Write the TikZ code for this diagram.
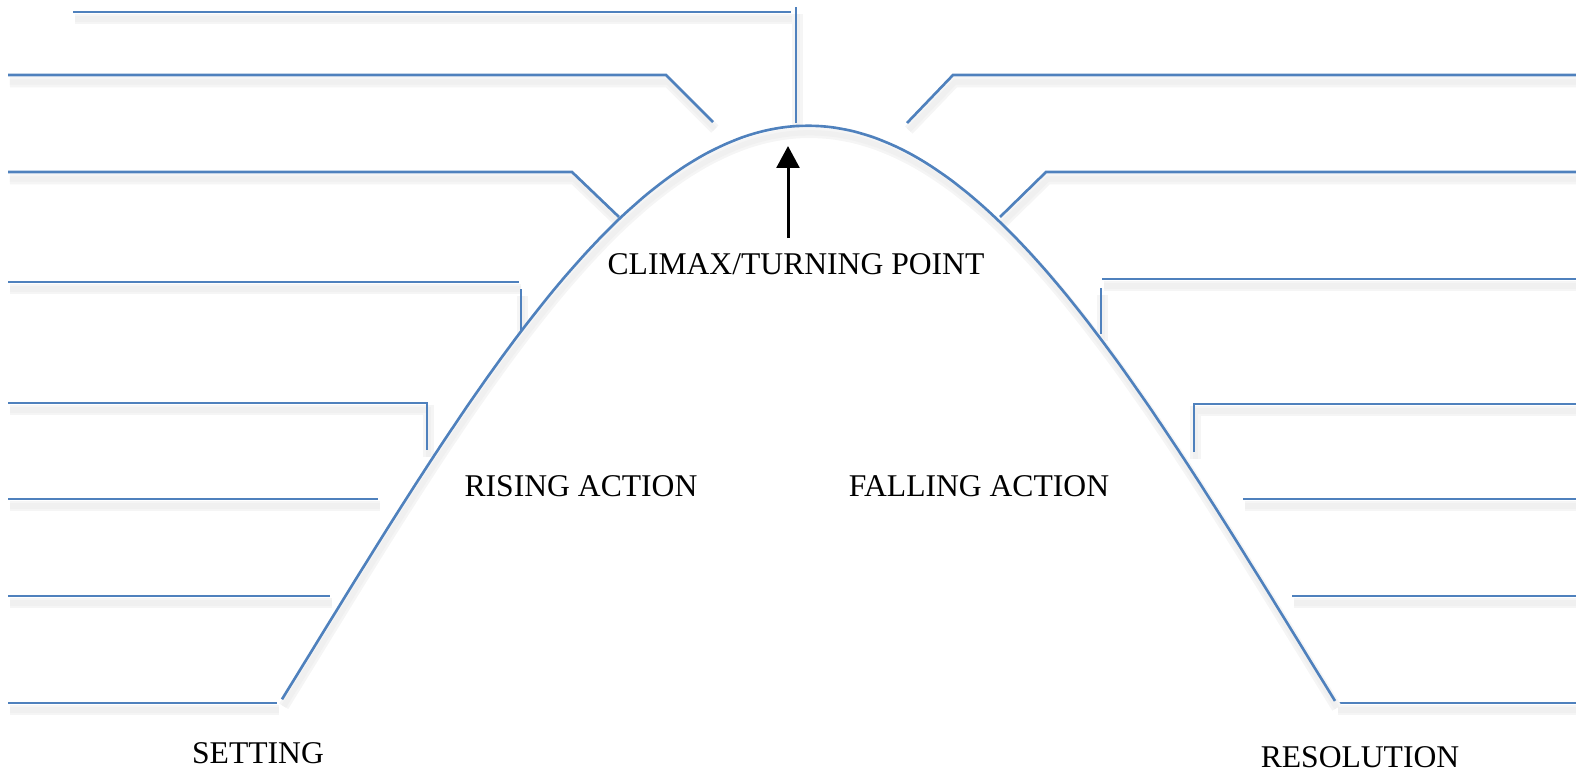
\documentclass[tikz,border=0pt]{standalone}
\usepackage{fontspec}
\setmainfont{Liberation Serif}
\usetikzlibrary{arrows.meta}
\definecolor{lineblue}{RGB}{79,129,189}
\tikzset{
  blank/.style={draw=lineblue, line width=1.5pt,
    preaction={draw=black!4, line width=6pt, transform canvas={shift={(1pt,-4pt)}}},
    preaction={draw=black!6, line width=3pt, transform canvas={shift={(1pt,-4pt)}}}},
  stage/.style={font=\fontsize{18pt}{22pt}\selectfont, inner sep=0pt, anchor=base},
  pointer/.style={-{Triangle[width=13pt,length=12.5pt]}, line width=1.7pt}
}

\begin{document}
\begin{tikzpicture}[x=0.02cm, y=-0.02cm]
\useasboundingbox (0,0) rectangle (1576,771);
% left blanks
\draw[blank] (73,12) -- (791,12);
\draw[blank] (796,7) -- (796,123);
\draw[blank] (8,75) -- (666,75) -- (713,122);
\draw[blank] (8,172) -- (572,172) -- (619,217);
\draw[blank] (8,282) -- (519,282);
\draw[blank] (521,289) -- (521,331);
\draw[blank] (8,403) -- (427,403) -- (427,450);
\foreach \y/\x in {499/378, 596/330, 703/277}
	\draw[blank] (8,\y) -- (\x,\y);
% right blanks
\draw[blank] (907,123) -- (953,75) -- (1576,75);
\draw[blank] (1000,217) -- (1046,172) -- (1576,172);
\draw[blank] (1102,279) -- (1576,279);
\draw[blank] (1101,288) -- (1101,334);
\draw[blank] (1194,452) -- (1194,404) -- (1576,404);
\foreach \y/\x in {499/1243, 596/1292, 703/1336}
	\draw[blank] (\x,\y) -- (1576,\y);
% the arc
\draw[blank] plot[domain=282:1335, samples=150, smooth] (\x, {126+1329*(1-exp(-((\x-808)/700)^2))});
% labels
\node[stage] (climax) at (796,274) {CLIMAX/TURNING POINT};
\node[stage] (rising) at (581,496) {RISING ACTION};
\node[stage] (falling) at (979,496) {FALLING ACTION};
\node[stage] (setting) at (258,763) {SETTING};
\node[stage] (resolution) at (1360,767) {RESOLUTION};
\coordinate (arrowfoot) at (788,238);
\coordinate (peakmark) at (788,146);
\draw[pointer] (arrowfoot) -- (peakmark);
\end{tikzpicture}
\end{document}
